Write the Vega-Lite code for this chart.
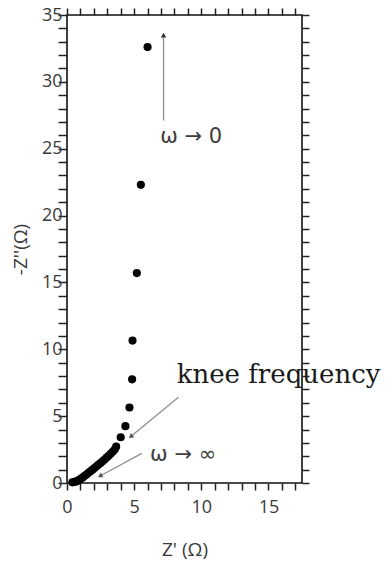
{
  "$schema": "https://vega.github.io/schema/vega-lite/v6.json",
  "width": 235,
  "height": 468,
  "autosize": {"type": "none"},
  "padding": {"left": 67, "top": 15, "right": 83, "bottom": 83},
  "background": "white",
  "config": {
    "view": {"stroke": "#111", "strokeWidth": 1.6},
    "axis": {
      "domain": false,
      "grid": false,
      "ticks": true,
      "tickColor": "#222",
      "tickOpacity": 1,
      "tickWidth": 1.5,
      "labelFont": "Open Sans",
      "labelFontSize": 18,
      "labelColor": "#3a3a3a",
      "labelFlush": false,
      "labelOverlap": false,
      "titleFont": "Open Sans",
      "titleFontSize": 19,
      "titleFontWeight": "normal",
      "titleColor": "#3a3a3a"
    },
    "axisX": {"ticks": true, "tickColor": "#222", "tickOpacity": 1},
    "axisBottom": {"ticks": true, "tickColor": "#222", "tickOpacity": 1}
  },
  "datasets": {
    "impedance": [
      {"zr": 0.4, "zi": 0.05}, {"zr": 0.55, "zi": 0.08}, {"zr": 0.7, "zi": 0.12},
      {"zr": 0.85, "zi": 0.2}, {"zr": 1.0, "zi": 0.3}, {"zr": 1.15, "zi": 0.4},
      {"zr": 1.3, "zi": 0.52}, {"zr": 1.45, "zi": 0.64}, {"zr": 1.6, "zi": 0.76},
      {"zr": 1.75, "zi": 0.88}, {"zr": 1.9, "zi": 1.0}, {"zr": 2.05, "zi": 1.12},
      {"zr": 2.2, "zi": 1.25}, {"zr": 2.35, "zi": 1.38}, {"zr": 2.5, "zi": 1.5},
      {"zr": 2.65, "zi": 1.63}, {"zr": 2.8, "zi": 1.76}, {"zr": 2.95, "zi": 1.9},
      {"zr": 3.1, "zi": 2.04}, {"zr": 3.25, "zi": 2.18}, {"zr": 3.4, "zi": 2.33},
      {"zr": 3.55, "zi": 2.5}, {"zr": 3.66, "zi": 2.72}, {"zr": 4.0, "zi": 3.42},
      {"zr": 4.35, "zi": 4.25}, {"zr": 4.65, "zi": 5.65}, {"zr": 4.85, "zi": 7.75},
      {"zr": 4.88, "zi": 10.65}, {"zr": 5.2, "zi": 15.7}, {"zr": 5.5, "zi": 22.3},
      {"zr": 6.0, "zi": 32.6}
    ],
    "arrows": [
      {"name": "low", "x": 7.19, "y": 27.1, "x2": 7.19, "y2": 33.5},
      {"name": "knee", "x": 8.3, "y": 6.42, "x2": 4.75, "y2": 3.47},
      {"name": "high", "x": 5.57, "y": 2.22, "x2": 2.46, "y2": 0.52}
    ],
    "notes": [
      {"text": "ω → 0", "x": 6.94, "y": 25.9},
      {"text": "ω → ∞", "x": 6.19, "y": 2.1}
    ],
    "knee": [
      {"text": "knee frequency", "x": 8.17, "y": 7.48}
    ]
  },
  "layer": [
    {
      "data": {"name": "impedance"},
      "mark": {"type": "circle", "size": 66, "color": "#000", "opacity": 1},
      "encoding": {
        "x": {
          "field": "zr", "type": "quantitative",
          "scale": {"domain": [0, 17.5], "nice": false, "zero": false},
          "axis": {
            "orient": "bottom",
            "values": [0,1,2,3,4,5,6,7,8,9,10,11,12,13,14,15,16,17],
            "labelExpr": "datum.value % 5 === 0 ? datum.label : ''",
            "ticks": true, "tickColor": "#222", "tickOpacity": 1, "tickWidth": 1.5,
            "tickSize": 7, "labelPadding": 8,
            "title": "Z' (Ω)", "titlePadding": 24,
            "encode": {"ticks": {"update": {"y": {"value": 0}, "y2": [{"test": "datum.value % 5 === 0", "value": -7}, {"value": -4}]}}}
          }
        },
        "y": {
          "field": "zi", "type": "quantitative",
          "scale": {"domain": [0, 35], "nice": false, "zero": false},
          "axis": {
            "orient": "left",
            "values": [0,1,2,3,4,5,6,7,8,9,10,11,12,13,14,15,16,17,18,19,20,21,22,23,24,25,26,27,28,29,30,31,32,33,34,35],
            "labelExpr": "datum.value % 5 === 0 ? datum.label : ''",
            "ticks": true, "tickSize": 9, "labelPadding": -4,
            "title": "-Z''(Ω)", "titlePadding": 11,
            "encode": {"ticks": {"update": {"x": {"value": 0}, "x2": [{"test": "datum.value % 5 === 0", "value": 9}, {"value": 5}]}}}
          }
        }
      }
    },
    {
      "data": {"name": "arrows"},
      "mark": {"type": "rule", "color": "#8f8f8f", "strokeWidth": 1.3},
      "encoding": {
        "x": {"field": "x", "type": "quantitative", "axis": null},
        "y": {"field": "y", "type": "quantitative", "axis": null},
        "x2": {"field": "x2"},
        "y2": {"field": "y2"}
      }
    },
    {
      "data": {"name": "arrows"},
      "transform": [{"filter": "datum.name === 'low'"}],
      "mark": {"type": "point", "shape": "triangle-up", "filled": true, "size": 30, "color": "#333", "opacity": 1},
      "encoding": {
        "x": {
          "field": "x2", "type": "quantitative",
          "axis": {
            "orient": "top",
            "values": [0,1,2,3,4,5,6,7,8,9,10,11,12,13,14,15,16,17],
            "ticks": true, "tickSize": 7, "labels": false, "title": null,
            "encode": {"ticks": {"update": {"y": {"value": 0}, "y2": [{"test": "datum.value % 5 === 0", "value": 7}, {"value": 4}]}}}
          }
        },
        "y": {
          "field": "y2", "type": "quantitative",
          "axis": {
            "orient": "right",
            "values": [0,1,2,3,4,5,6,7,8,9,10,11,12,13,14,15,16,17,18,19,20,21,22,23,24,25,26,27,28,29,30,31,32,33,34,35],
            "ticks": true, "tickSize": 7, "labels": false, "title": null,
            "encode": {"ticks": {"update": {"x": {"value": 0}, "x2": [{"test": "datum.value % 5 === 0", "value": -7}, {"value": -4}]}}}
          }
        }
      }
    },
    {
      "data": {"name": "arrows"},
      "transform": [{"filter": "datum.name === 'knee'"}],
      "mark": {"type": "point", "shape": "triangle-up", "filled": true, "size": 30, "angle": 230, "color": "#555", "opacity": 1},
      "encoding": {
        "x": {"field": "x2", "type": "quantitative", "axis": null},
        "y": {"field": "y2", "type": "quantitative", "axis": null}
      }
    },
    {
      "data": {"name": "arrows"},
      "transform": [{"filter": "datum.name === 'high'"}],
      "mark": {"type": "point", "shape": "triangle-up", "filled": true, "size": 30, "angle": 241, "color": "#555", "opacity": 1},
      "encoding": {
        "x": {"field": "x2", "type": "quantitative", "axis": null},
        "y": {"field": "y2", "type": "quantitative", "axis": null}
      }
    },
    {
      "data": {"name": "notes"},
      "mark": {"type": "text", "align": "left", "baseline": "middle", "font": "DejaVu Sans", "fontSize": 21, "color": "#3d3d3d"},
      "encoding": {
        "x": {"field": "x", "type": "quantitative", "axis": null},
        "y": {"field": "y", "type": "quantitative", "axis": null},
        "text": {"field": "text"}
      }
    },
    {
      "data": {"name": "knee"},
      "mark": {"type": "text", "align": "left", "baseline": "alphabetic", "font": "DejaVu Serif", "fontSize": 26, "color": "#1a1a1a"},
      "encoding": {
        "x": {"field": "x", "type": "quantitative", "axis": null},
        "y": {"field": "y", "type": "quantitative", "axis": null},
        "text": {"field": "text"}
      }
    }
  ],
  "resolve": {"axis": {"x": "independent", "y": "independent"}}
}
